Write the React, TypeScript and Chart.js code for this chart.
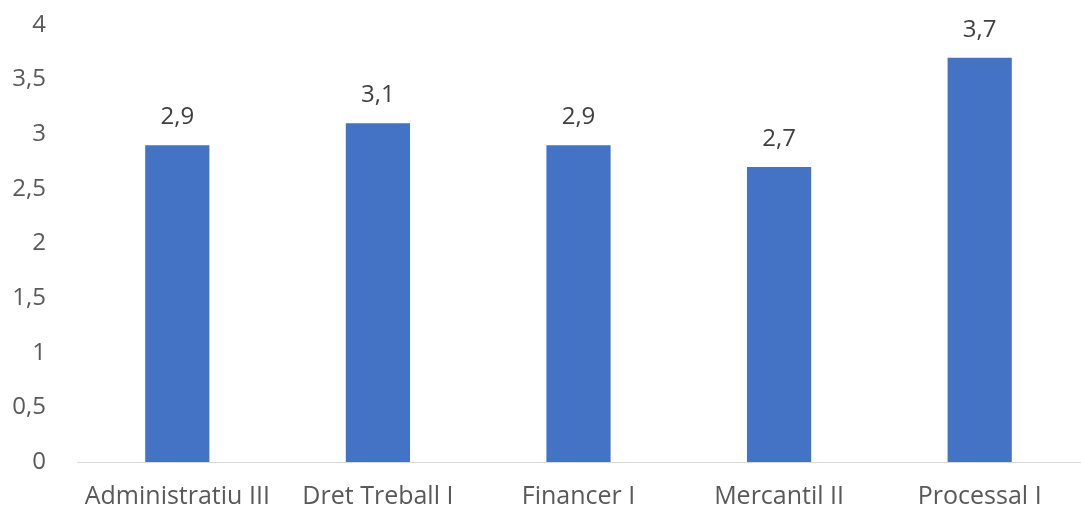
import React, { useEffect, useRef } from "react";
import { Chart, registerables } from "chart.js";

Chart.register(...registerables);

const categories = ["Administratiu III", "Dret Treball I", "Financer I", "Mercantil II", "Processal I"];
const values = [2.9, 3.1, 2.9, 2.7, 3.7];
const yTicks = [0, 0.5, 1, 1.5, 2, 2.5, 3, 3.5, 4];

const FONT = "'Open Sans', sans-serif";
const TEXT = "#595959";

const fmt = (v: number) => v.toString().replace(".", ",");

const labelPlugin = {
  id: "barLabels",
  afterDatasetsDraw(chart: any) {
    const ctx = chart.ctx;
    const meta = chart.getDatasetMeta(0);
    ctx.save();
    ctx.font = `24px ${FONT}`;
    ctx.fillStyle = "#404040";
    ctx.textAlign = "center";
    ctx.textBaseline = "middle";
    meta.data.forEach((bar: any, i: number) => {
      ctx.fillText(fmt(values[i]), bar.x, bar.y - 28);
    });
    ctx.restore();
  },
};

export default function App() {
  const ref = useRef<HTMLCanvasElement>(null);
  useEffect(() => {
    document.body.style.margin = "0";
    const chart = new Chart(ref.current!, {
      type: "bar",
      data: {
        labels: categories,
        datasets: [
          {
            data: values,
            backgroundColor: "#4472C4",
            categoryPercentage: 1,
            barPercentage: 0.32,
          },
        ],
      },
      options: {
        animation: false,
        responsive: false,
        maintainAspectRatio: false,
        layout: { padding: { top: 25, right: 1, left: 0, bottom: 0 } },
        plugins: { legend: { display: false }, tooltip: { enabled: false } },
        scales: {
          x: {
            grid: { display: false },
            border: { display: true, color: "#D9D9D9", width: 1 },
            ticks: { color: TEXT, font: { family: FONT, size: 25 }, padding: 12, maxRotation: 0 },
            afterFit(scale: any) {
              scale.height = 48;
              scale.paddingLeft = 0;
              scale.paddingRight = 0;
            },
          },
          y: {
            min: 0,
            max: 4,
            afterBuildTicks(scale: any) {
              scale.ticks = yTicks.map((v) => ({ value: v }));
            },
            grid: { display: false },
            border: { display: false },
            ticks: {
              color: TEXT,
              font: { family: FONT, size: 24 },
              padding: 23,
              callback: (v: any) => fmt(Number(v)),
            },
            afterFit(scale: any) {
              scale.width = 77;
              scale.paddingTop = 0;
              scale.paddingBottom = 0;
            },
          },
        },
      },
      plugins: [labelPlugin],
    });
    return () => chart.destroy();
  }, []);
  return (
    <div style={{ position: "absolute", left: 0, top: 0, width: 1081, height: 510 }}>
      <canvas ref={ref} width={1081} height={510} />
    </div>
  );
}
